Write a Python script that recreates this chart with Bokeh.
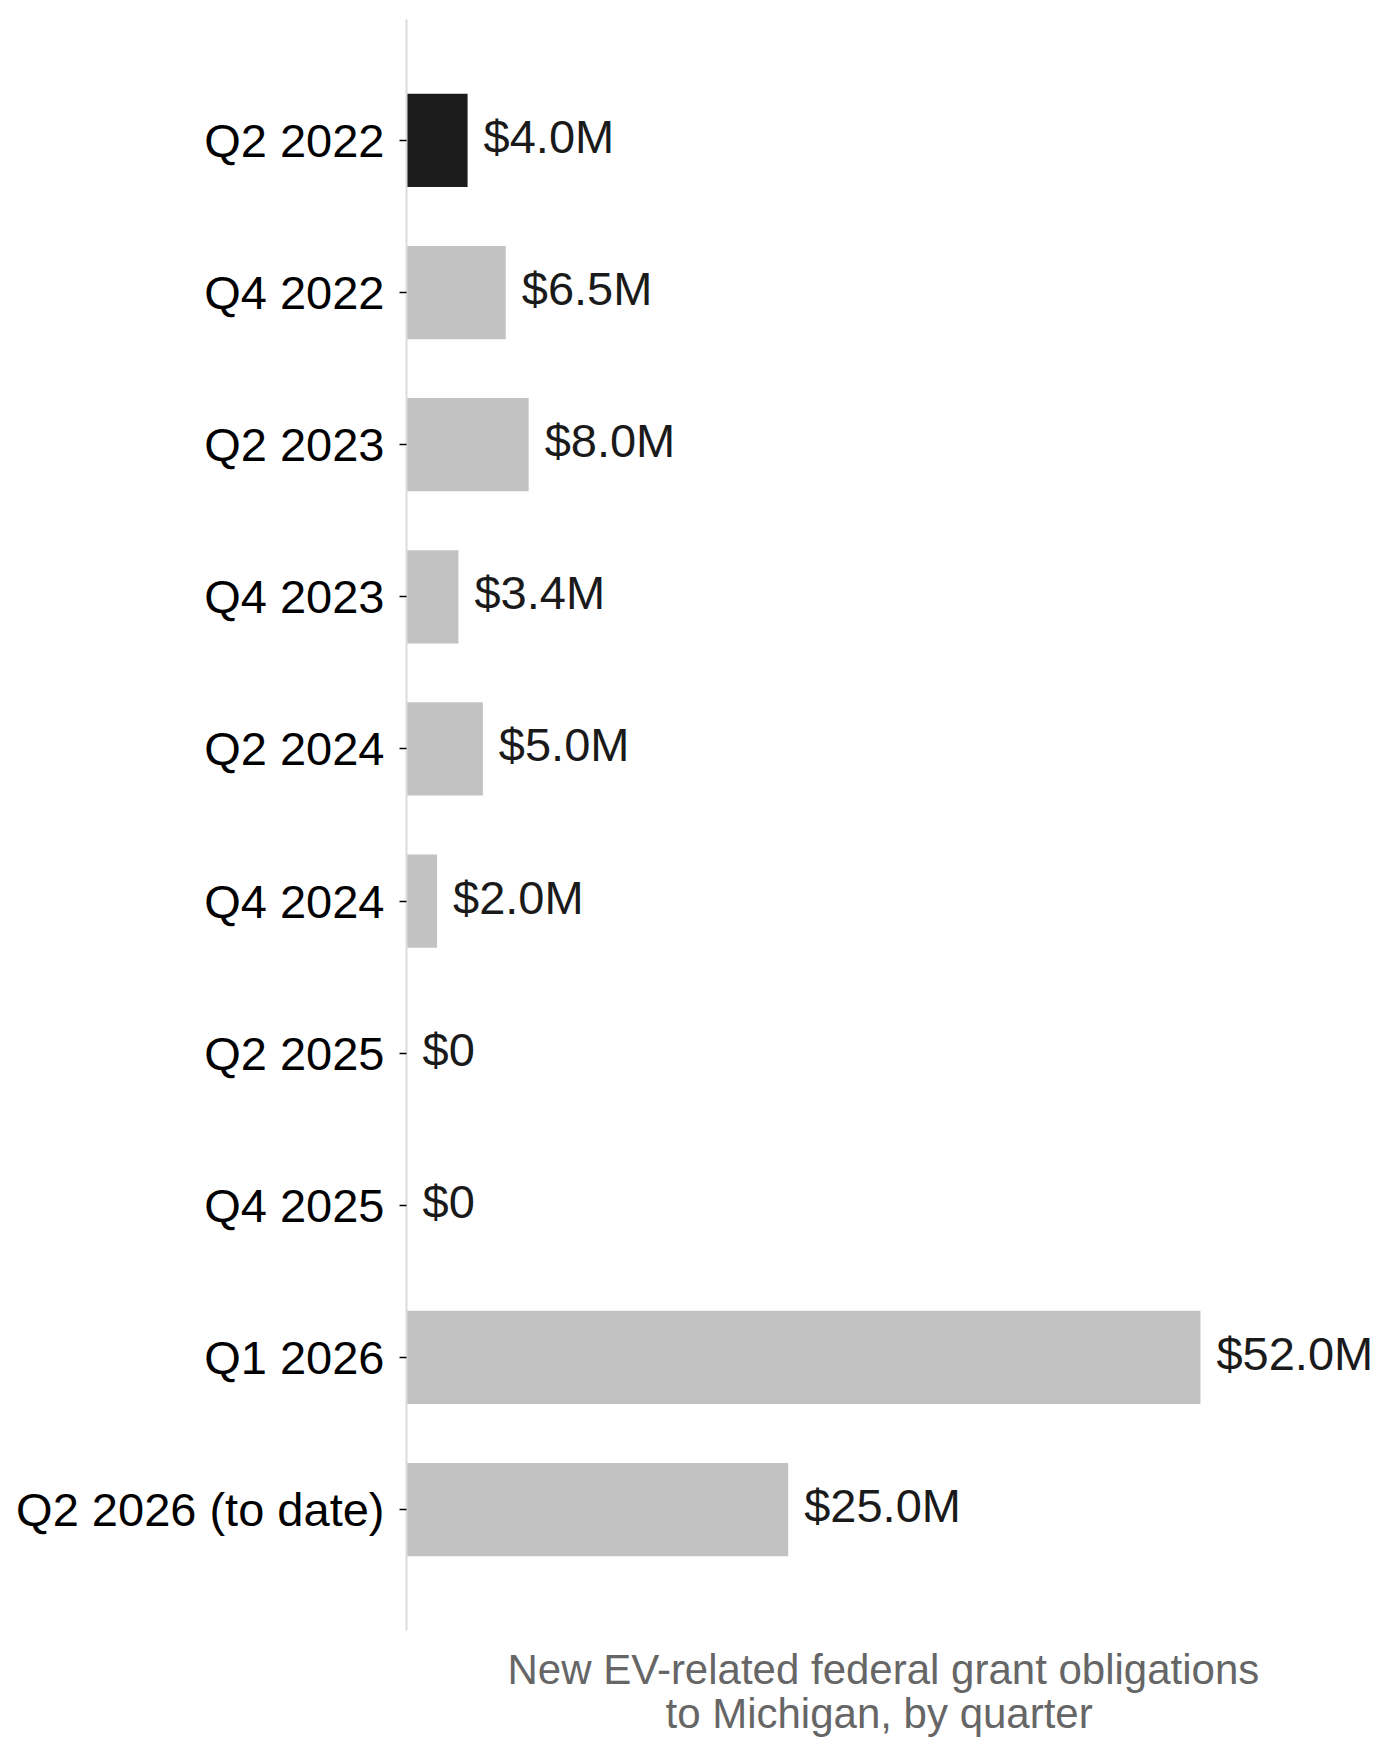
from bokeh.core.properties import value
from bokeh.embed import file_html
from bokeh.models import ColumnDataSource, FactorRange, Range1d, Title
from bokeh.plotting import figure
from bokeh.resources import INLINE

# Data
quarters = ["Q2 2022", "Q4 2022", "Q2 2023", "Q4 2023", "Q2 2024",
            "Q4 2024", "Q2 2025", "Q4 2025", "Q1 2026", "Q2 2026 (to date)"]
obligations = [4.0, 6.5, 8.0, 3.4, 5.0, 2.0, 0.0, 0.0, 52.0, 25.0]  # $M
labels = ["$4.0M", "$6.5M", "$8.0M", "$3.4M", "$5.0M", "$2.0M", "$0", "$0", "$52.0M", "$25.0M"]
highlight = "Q2 2022"
caption = ["New EV-related federal grant obligations", "to Michigan, by quarter"]

FONT = "Liberation Sans"
colors = ["#1c1c1c" if q == highlight else "#c2c2c2" for q in quarters]

source = ColumnDataSource(data=dict(quarter=quarters, amount=obligations,
                                    label=labels, color=colors))

p = figure(
    width=1388, height=1755,
    y_range=FactorRange(factors=quarters[::-1], range_padding=0.059),
    x_range=Range1d(0, 63.4),
    output_backend="svg", toolbar_location=None, tools="",
    min_border_left=406, min_border_right=14, min_border_top=19, min_border_bottom=125,
)

p.hbar(y="quarter", right="amount", left=0, height=0.613, color="color",
       line_color=None, source=source)

p.text(x="amount", y="quarter", text="label", source=source,
       x_offset=16, y_offset=-4, text_align="left", text_baseline="middle",
       text_font=value(FONT), text_font_size="47px", text_color="#1a1a1a")

# Axes and frame
p.xaxis.visible = False
p.xgrid.visible = False
p.ygrid.visible = False
p.outline_line_color = None

p.yaxis.axis_line_color = "#dcdcdc"
p.yaxis.axis_line_width = 2
p.yaxis.major_tick_line_color = "black"
p.yaxis.major_tick_line_width = 1.5
p.yaxis.major_tick_out = 7
p.yaxis.major_tick_in = 0
p.yaxis.minor_tick_line_color = None
p.yaxis.major_label_standoff = 15
p.yaxis.major_label_text_font = FONT
p.yaxis.major_label_text_font_size = "47px"
p.yaxis.major_label_text_color = "black"

# Axis caption below the panel
for line, shift, gap in zip(caption, [101, 259], [26, -36]):
    p.add_layout(Title(text=line, align="left", offset=shift, standoff=gap,
                       text_font=FONT, text_font_size="42px", text_font_style="normal",
                       text_color="#666666"), "below")

open("out.html", "w").write(file_html(p, INLINE))
